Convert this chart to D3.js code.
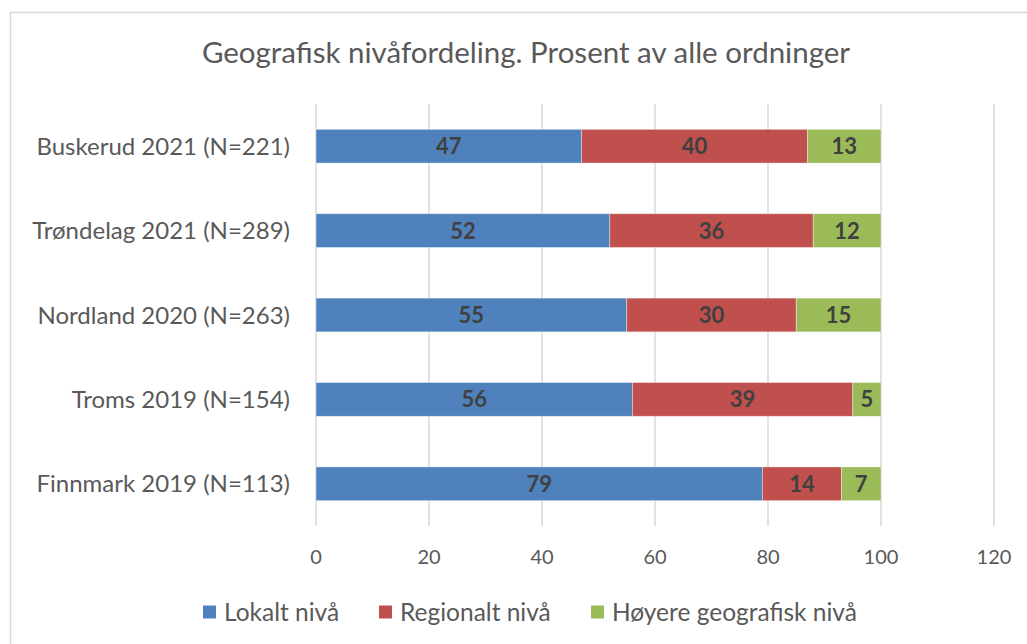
<!DOCTYPE html>
<html>
<head>
<meta charset="utf-8">
<script src="https://cdn.jsdelivr.net/npm/d3@7"></script>
<style>
  body { margin: 0; background: #fff; }
  text { font-family: Lato, "Open Sans", sans-serif; }
</style>
</head>
<body>
<svg id="chart" width="1027" height="644"></svg>
<script>
// chart data
var categories = ['Buskerud 2021 (N=221)', 'Trøndelag 2021 (N=289)', 'Nordland 2020 (N=263)', 'Troms 2019 (N=154)', 'Finnmark 2019 (N=113)'];
var seriesNames = ['Lokalt nivå', 'Regionalt nivå', 'Høyere geografisk nivå'];
var lokalt = [47, 52, 55, 56, 79];
var regionalt = [40, 36, 30, 39, 14];
var hoyere = [13, 12, 15, 5, 7];
var xTicks = [0, 20, 40, 60, 80, 100, 120];
var title = 'Geografisk nivåfordeling. Prosent av alle ordninger';

var colors = ['#4f81bd', '#c0504d', '#9bbb59'];
var textColor = '#595959';

var svg = d3.select('#chart');

// outer chart border, runs off the right and bottom edge like the original
svg.append('rect')
  .attr('x', 10.5).attr('y', 12.5)
  .attr('width', 1040).attr('height', 660)
  .attr('fill', '#fff')
  .attr('stroke', '#d9d9d9')
  .attr('stroke-width', 1.5);

svg.append('text')
  .attr('x', 526).attr('y', 63)
  .attr('text-anchor', 'middle')
  .attr('font-size', 29.5)
  .attr('fill', textColor)
  .text(title);

var x = d3.scaleLinear().domain([0, 120]).range([316, 994]);
var y = d3.scaleBand().domain(categories).range([104, 526])
  .paddingInner(0.6).paddingOuter(0.3);

// gridlines
svg.append('g').selectAll('line')
  .data(xTicks)
  .enter().append('line')
  .attr('x1', function(d){ return x(d); })
  .attr('x2', function(d){ return x(d); })
  .attr('y1', 104).attr('y2', 526)
  .attr('stroke', '#d9d9d9')
  .attr('stroke-width', 1.5);

// x tick labels
svg.append('g').selectAll('text')
  .data(xTicks)
  .enter().append('text')
  .attr('x', function(d){ return x(d); })
  .attr('y', 564)
  .attr('text-anchor', 'middle')
  .attr('font-size', 20)
  .attr('fill', textColor)
  .text(function(d){ return d; });

// category labels
svg.append('g').selectAll('text')
  .data(categories)
  .enter().append('text')
  .attr('x', 290)
  .attr('y', function(d){ return y(d) + y.bandwidth() / 2; })
  .attr('dy', '0.36em')
  .attr('text-anchor', 'end')
  .attr('font-size', 24)
  .attr('fill', textColor)
  .text(function(d){ return d; });

// stack the three series
var rows = categories.map(function(c, i){
  return {cat: c, s0: lokalt[i], s1: regionalt[i], s2: hoyere[i]};
});
var stack = d3.stack().keys(['s0', 's1', 's2'])(rows);

var layers = svg.append('g').selectAll('g')
  .data(stack)
  .enter().append('g')
  .attr('fill', function(d, i){ return colors[i]; });

layers.selectAll('rect')
  .data(function(d){ return d; })
  .enter().append('rect')
  .attr('x', function(d){ return x(d[0]); })
  .attr('y', function(d){ return y(d.data.cat); })
  .attr('width', function(d){ return x(d[1]) - x(d[0]); })
  .attr('height', y.bandwidth())
  .attr('stroke', '#fff')
  .attr('stroke-opacity', 0.5)
  .attr('stroke-width', 0.75);

// value labels
layers.selectAll('text')
  .data(function(d){ return d; })
  .enter().append('text')
  .attr('x', function(d){ return (x(d[0]) + x(d[1])) / 2; })
  .attr('y', function(d){ return y(d.data.cat) + y.bandwidth() / 2; })
  .attr('dy', '0.36em')
  .attr('text-anchor', 'middle')
  .attr('font-size', 22)
  .attr('font-weight', 'bold')
  .attr('fill', '#404040')
  .text(function(d){ return d[1] - d[0]; });

// legend
var legendX = [203, 379, 591];
var legend = svg.append('g').selectAll('g')
  .data(seriesNames)
  .enter().append('g')
  .attr('transform', function(d, i){ return 'translate(' + legendX[i] + ',612)'; });

legend.append('rect')
  .attr('x', 0).attr('y', -6.5)
  .attr('width', 13).attr('height', 13)
  .attr('fill', function(d, i){ return colors[i]; });

legend.append('text')
  .attr('x', 21).attr('y', 8.5)
  .attr('font-size', 24.5)
  .attr('fill', textColor)
  .text(function(d){ return d; });
</script>
</body>
</html>
